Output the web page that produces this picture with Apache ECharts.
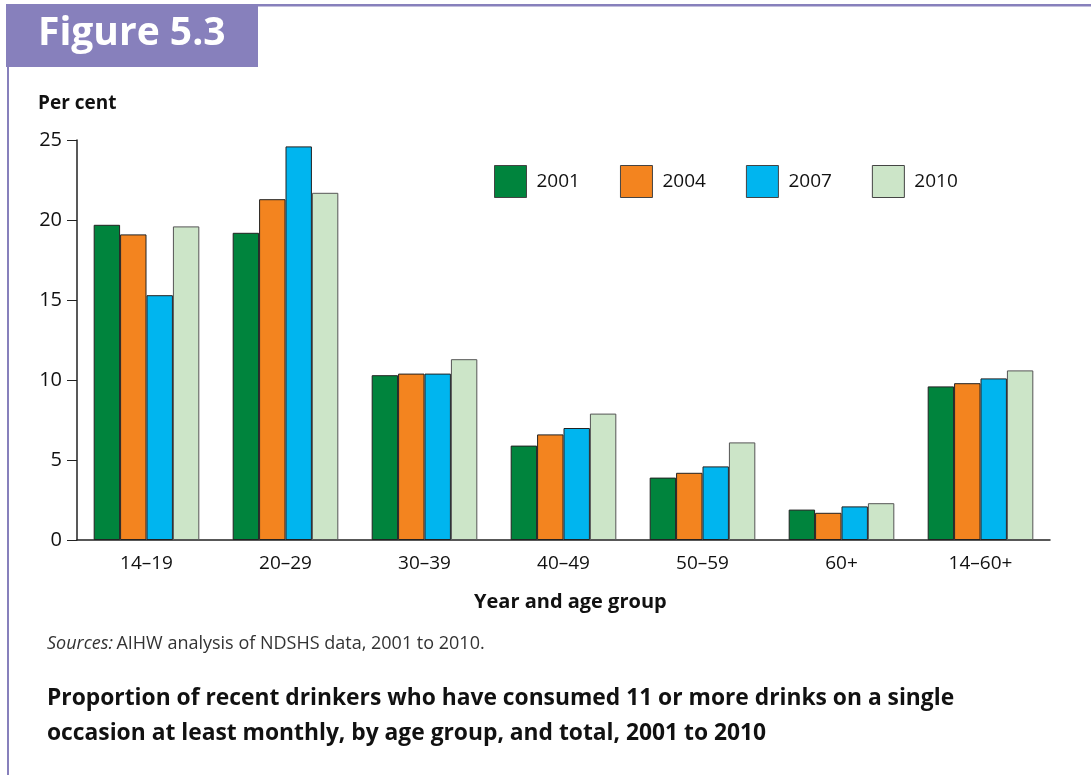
<!DOCTYPE html>
<html><head><meta charset="utf-8">
<script src="https://cdn.jsdelivr.net/npm/echarts@6/dist/echarts.min.js"></script>
<style>html,body{margin:0;padding:0;background:#fff}#c{width:1091px;height:775px}</style>
</head><body><div id="c"></div>
<script>
const categories = ['14–19','20–29','30–39','40–49','50–59','60+','14–60+'];
const years = ['2001','2004','2007','2010'];
const v2001 = [19.7, 19.2, 10.3, 5.9, 3.9, 1.9, 9.6];
const v2004 = [19.1, 21.3, 10.4, 6.6, 4.2, 1.7, 9.8];
const v2007 = [15.3, 24.6, 10.4, 7.0, 4.6, 2.1, 10.1];
const v2010 = [19.6, 21.7, 11.3, 7.9, 6.1, 2.3, 10.6];
const yTicks = [0, 5, 10, 15, 20, 25];
const colors = ['#00843D', '#F3841F', '#00B5EF', '#CCE5C8'];
const borders = ['#222', '#222', '#222', '#555'];
const values = [v2001, v2004, v2007, v2010];
const FONT = 'Open Sans';
const purple = '#8780BC';

const chart = echarts.init(document.getElementById('c'), null, {renderer: 'canvas'});
chart.setOption({
  animation: false,
  textStyle: {fontFamily: FONT},
  grid: {left: 77, right: 41, top: 140, bottom: 235},
  legend: {
    data: years, left: 494, top: 165, padding: 0, itemWidth: 32, itemHeight: 32, itemGap: 40,
    icon: 'rect',
    textStyle: {fontSize: 19, color: '#111', fontFamily: FONT, padding: [5, 0, 0, 5]},
    itemStyle: {borderColor: '#444', borderWidth: 1}
  },
  xAxis: {
    type: 'category', data: categories,
    axisLine: {lineStyle: {color: '#222', width: 1.5}},
    axisTick: {show: false},
    axisLabel: {fontSize: 19, color: '#111', margin: 14, fontFamily: FONT}
  },
  yAxis: {
    type: 'value', min: yTicks[0], max: yTicks[yTicks.length-1], interval: 5,
    splitLine: {show: false},
    axisLine: {show: true, lineStyle: {color: '#222', width: 1.5}},
    axisTick: {show: true, length: 10, lineStyle: {color: '#222'}},
    axisLabel: {fontSize: 20, color: '#111', margin: 15, fontFamily: FONT}
  },
  series: years.map((y, i) => ({
    name: y, type: 'bar', data: values[i],
    barGap: '0%', barCategoryGap: '24%',
    itemStyle: {color: colors[i], borderColor: borders[i], borderWidth: 1}
  })),
  graphic: [
    {type: 'rect', shape: {x: 6, y: 4, width: 252, height: 63}, style: {fill: purple}},
    {type: 'rect', shape: {x: 258, y: 4, width: 833, height: 2.5}, style: {fill: purple}},
    {type: 'rect', shape: {x: 7, y: 67, width: 2, height: 708}, style: {fill: purple}},
    {type: 'text', left: 38, top: 14, style: {text: 'Figure 5.3', fill: '#fff', font: 'bold 39px "' + FONT + '"'}},
    {type: 'text', left: 38, top: 94, style: {text: 'Per cent', fill: '#111', font: 'bold 19px "' + FONT + '"'}},
    {type: 'text', left: 474, top: 592, style: {text: 'Year and age group', fill: '#111', font: 'bold 20px "' + FONT + '"'}},
    {type: 'text', left: 47, top: 635, style: {rich: {i: {fontStyle: 'italic', fontSize: 18, fill: '#333', fontFamily: FONT}, n: {fontSize: 18, fill: '#333', fontFamily: FONT}}, text: '{i|Sources:} {n|AIHW analysis of NDSHS data, 2001 to 2010.}'}},
    {type: 'text', left: 47, top: 681, style: {text: 'Proportion of recent drinkers who have consumed 11 or more drinks on a single\noccasion at least monthly, by age group, and total, 2001 to 2010', fill: '#111', font: 'bold 22.8px "' + FONT + '"', lineHeight: 35}}
  ]
});
</script></body></html>
